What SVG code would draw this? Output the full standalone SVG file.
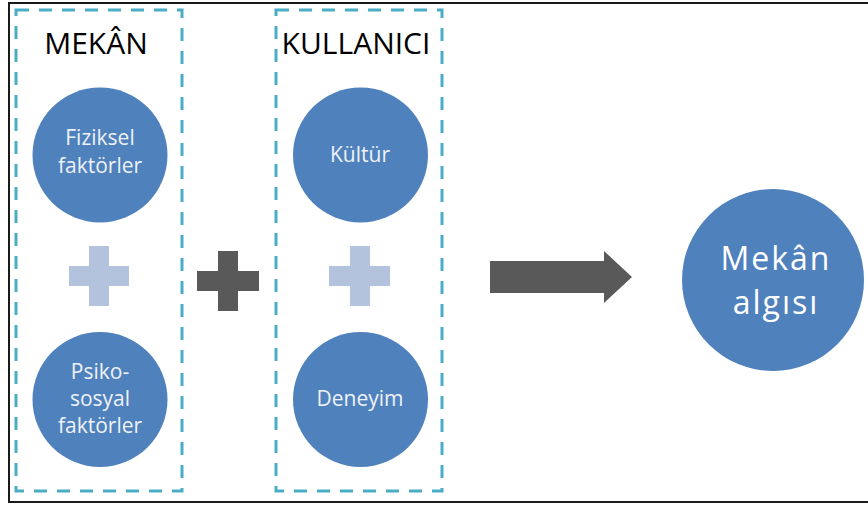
<svg xmlns="http://www.w3.org/2000/svg" width="868" height="506" viewBox="0 0 868 506">
  <style>
    .frame { fill: #ffffff; stroke: #1a1a1a; stroke-width: 2; }
    .box { fill: none; stroke: #4bacc6; stroke-width: 3; stroke-dasharray: 13 10; }
    .circ { fill: #4f81bd; }
    .ctext { font-family: "Open Sans", "Liberation Sans", sans-serif; font-size: 21px; fill: #eef2f8; text-anchor: middle; }
    .title { font-family: "Open Sans", "Liberation Sans", sans-serif; font-size: 30px; fill: #000000; text-anchor: middle; }
    .big { font-family: "Open Sans", "Liberation Sans", sans-serif; font-size: 32px; letter-spacing: 2px; fill: #ffffff; text-anchor: middle; }
    .plus-light { fill: #b3c3de; }
    .dark { fill: #595959; }
  </style>
  <rect class="frame" x="9" y="3" width="870" height="499"/>

  <g id="mekan-group">
    <rect class="box" x="16" y="10" width="166" height="481"/>
    <text class="title" x="96" y="54">MEKÂN</text>
  </g>
  <g id="kullanici-group">
    <rect class="box" x="276" y="10" width="166" height="481"/>
    <text class="title" x="356" y="54">KULLANICI</text>
  </g>

  <g id="fiziksel">
    <circle class="circ" cx="100" cy="155" r="67.5"/>
    <text class="ctext" x="100" y="145">Fiziksel<tspan x="100" dy="28">faktörler</tspan></text>
  </g>
  <g id="psikososyal">
    <circle class="circ" cx="100" cy="399.5" r="67.5"/>
    <text class="ctext" x="100" y="379">Psiko-<tspan x="100" dy="27">sosyal</tspan><tspan x="100" dy="27">faktörler</tspan></text>
  </g>
  <g id="kultur">
    <circle class="circ" cx="360.5" cy="155" r="67.5"/>
    <text class="ctext" x="360" y="162">Kültür</text>
  </g>
  <g id="deneyim">
    <circle class="circ" cx="360.5" cy="399.5" r="67.5"/>
    <text class="ctext" x="360" y="406">Deneyim</text>
  </g>

  <g id="plus-left">
    <rect class="plus-light" x="69" y="266" width="60" height="20"/>
    <rect class="plus-light" x="89" y="246" width="20" height="60"/>
  </g>
  <g id="plus-center">
    <rect class="dark" x="197" y="271" width="62" height="20"/>
    <rect class="dark" x="218" y="251" width="20" height="60"/>
  </g>
  <g id="plus-right">
    <rect class="plus-light" x="329" y="266" width="61" height="20"/>
    <rect class="plus-light" x="350" y="246" width="20" height="60"/>
  </g>

  <g id="connectors">
    <polygon class="dark" points="490,261 604,261 604,251 632,277 604,303 604,293 490,293"/>
  </g>

  <g id="mekan-algisi">
    <circle class="circ" cx="773" cy="280" r="91"/>
    <text class="big" x="776" y="270">Mekân<tspan x="776" dy="44">algısı</tspan></text>
  </g>
</svg>
